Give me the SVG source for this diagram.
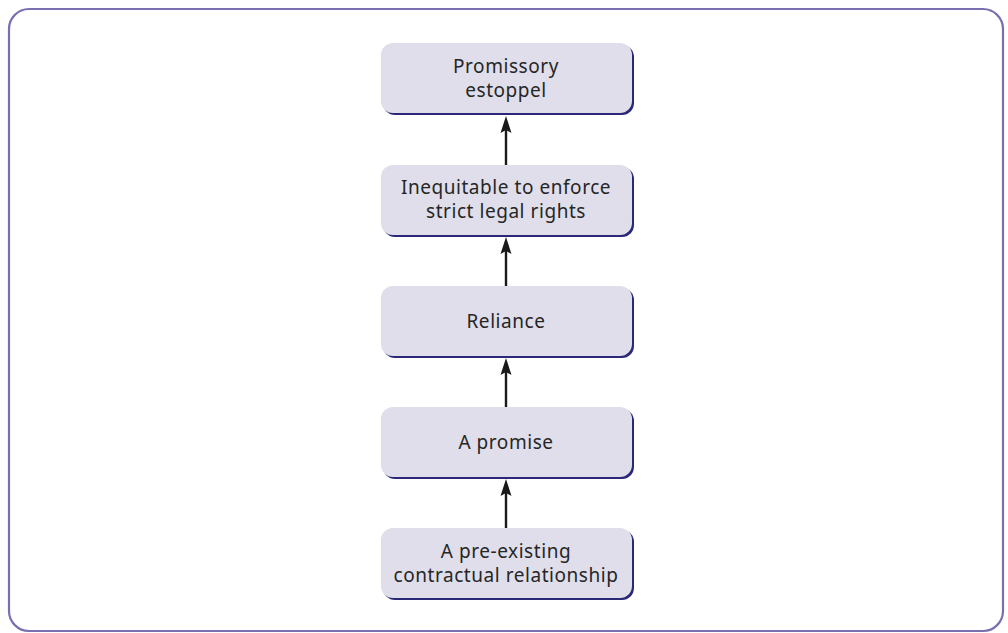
<svg xmlns="http://www.w3.org/2000/svg" width="1008" height="633" viewBox="0 0 1008 633">
<style>
.frame{fill:#ffffff;stroke:#7a70b0;stroke-width:2.2}
.shadow{fill:#2c2878}
.box{fill:#dfdeea}
.t{font-family:"Noto Sans","DejaVu Sans",sans-serif;font-size:19px;letter-spacing:0.55px;fill:#262626;text-anchor:middle}
.conn{stroke:#1a1a1a;stroke-width:2.4;fill:none}
.ah{fill:#1a1a1a}
</style>
<rect class="frame" x="9" y="9" width="994" height="622" rx="20"/>
<g id="connectors">
<line class="conn" x1="506" y1="165" x2="506" y2="130"/>
<path class="ah" d="M506 116 L511.5 133 L506 130 L500.5 133 Z"/>
<line class="conn" x1="506" y1="286" x2="506" y2="251"/>
<path class="ah" d="M506 237 L511.5 254 L506 251 L500.5 254 Z"/>
<line class="conn" x1="506" y1="407" x2="506" y2="372"/>
<path class="ah" d="M506 358 L511.5 375 L506 372 L500.5 375 Z"/>
<line class="conn" x1="506" y1="528" x2="506" y2="493"/>
<path class="ah" d="M506 479 L511.5 496 L506 493 L500.5 496 Z"/>
</g>
<g id="n1">
<rect class="shadow" x="383" y="45" width="251" height="70" rx="12"/>
<rect class="box" x="381" y="43" width="251" height="70" rx="12"/>
<text class="t" x="506" y="73">Promissory</text>
<text class="t" x="506" y="97">estoppel</text>
</g>
<g id="n2">
<rect class="shadow" x="383" y="167" width="251" height="70" rx="12"/>
<rect class="box" x="381" y="165" width="251" height="70" rx="12"/>
<text class="t" x="506" y="194">Inequitable to enforce</text>
<text class="t" x="506" y="218">strict legal rights</text>
</g>
<g id="n3">
<rect class="shadow" x="383" y="288" width="251" height="70" rx="12"/>
<rect class="box" x="381" y="286" width="251" height="70" rx="12"/>
<text class="t" x="506" y="328">Reliance</text>
</g>
<g id="n4">
<rect class="shadow" x="383" y="409" width="251" height="70" rx="12"/>
<rect class="box" x="381" y="407" width="251" height="70" rx="12"/>
<text class="t" x="506" y="449">A promise</text>
</g>
<g id="n5">
<rect class="shadow" x="383" y="530" width="251" height="70" rx="12"/>
<rect class="box" x="381" y="528" width="251" height="70" rx="12"/>
<text class="t" x="506" y="558">A pre-existing</text>
<text class="t" x="506" y="582">contractual relationship</text>
</g>
</svg>
